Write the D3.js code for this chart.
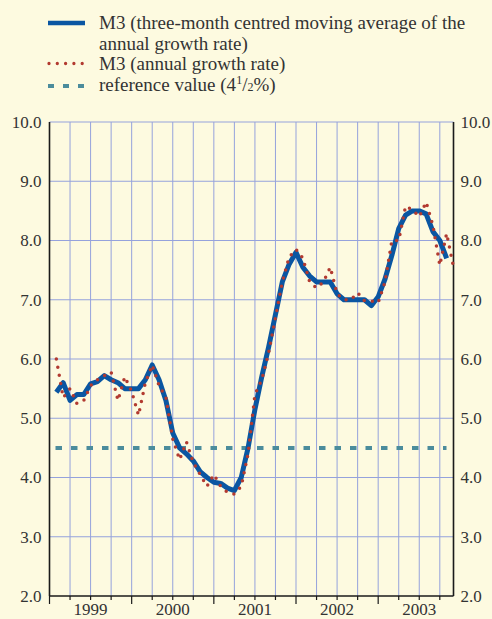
<!DOCTYPE html>
<html lang="en">
<head>
<meta charset="UTF-8">
<script src="https://cdn.jsdelivr.net/npm/d3@7"></script>
<style>
  body { margin: 0; background: #fdfae0; }
  svg { display: block; font-family: "Liberation Serif", "Times New Roman", serif; }
</style>
</head>
<body>
<div id="chart"></div>
<script>
// month index 0 = Jan 1999
var avgValues = [5.44, 5.6, 5.3, 5.4, 5.4, 5.58, 5.62, 5.72, 5.65, 5.6, 5.5, 5.5,
  5.5, 5.65, 5.9, 5.65, 5.3, 4.75, 4.5, 4.4, 4.28, 4.1, 4.0, 3.92,
  3.9, 3.82, 3.78, 4.0, 4.5, 5.15, 5.7, 6.2, 6.75, 7.3, 7.6, 7.8,
  7.55, 7.4, 7.3, 7.3, 7.3, 7.1, 7.0, 7.0, 7.0, 7.0, 6.9, 7.05,
  7.35, 7.75, 8.2, 8.43, 8.5, 8.5, 8.45, 8.15, 8.0, 7.7];

var annualValues = [6.0, 5.35, 5.5, 5.25, 5.3, 5.55, 5.65, 5.72, 5.78, 5.3, 5.7, 5.45,
  5.05, 5.6, 5.9, 5.55, 5.35, 4.65, 4.3, 4.6, 4.25, 4.05, 3.85, 4.05,
  3.85, 3.75, 3.72, 3.85, 4.4, 5.4, 5.65, 6.1, 6.7, 7.3, 7.72, 7.85,
  7.7, 7.3, 7.2, 7.3, 7.55, 7.1, 7.0, 7.0, 7.12, 6.98, 6.98, 6.95,
  7.3, 8.0, 8.0, 8.58, 8.52, 8.4, 8.65, 8.25, 7.58, 8.12, 7.55];

var referenceValue = 4.5;
var years = ["1999", "2000", "2001", "2002", "2003"];
var yTicks = [2, 3, 4, 5, 6, 7, 8, 9, 10];

var W = 492, H = 619;
var plotLeft = 49.5, plotRight = 453.5, plotTop = 122, plotBottom = 596;

var svg = d3.select("#chart").append("svg")
  .attr("width", W).attr("height", H);

svg.append("rect").attr("width", W).attr("height", H).attr("fill", "#fdfae0");

// months since start of Jan 1999; data plotted at month end
var x = d3.scaleLinear().domain([0, 59]).range([plotLeft, plotRight]);
var y = d3.scaleLinear().domain([2, 10]).range([plotBottom, plotTop]);

var gridColor = "#95a2dc";

// vertical grid (quarters)
var quarters = d3.range(3, 59, 3);
svg.append("g").selectAll("line").data(quarters).enter().append("line")
  .attr("x1", function(d) { return x(d); }).attr("x2", function(d) { return x(d); })
  .attr("y1", plotTop).attr("y2", plotBottom)
  .attr("stroke", gridColor).attr("stroke-width", 1);

// horizontal grid
svg.append("g").selectAll("line").data(yTicks.slice(1)).enter().append("line")
  .attr("x1", plotLeft).attr("x2", plotRight)
  .attr("y1", function(d) { return y(d); }).attr("y2", function(d) { return y(d); })
  .attr("stroke", gridColor).attr("stroke-width", 1);

// axes
svg.append("line").attr("x1", plotLeft).attr("x2", plotLeft).attr("y1", plotTop).attr("y2", plotBottom)
  .attr("stroke", "#1a1a1a").attr("stroke-width", 1.6);
svg.append("line").attr("x1", plotRight).attr("x2", plotRight).attr("y1", plotTop).attr("y2", plotBottom)
  .attr("stroke", "#1a1a1a").attr("stroke-width", 1.6);
svg.append("line").attr("x1", plotLeft).attr("x2", plotRight).attr("y1", plotBottom).attr("y2", plotBottom)
  .attr("stroke", "#1a1a1a").attr("stroke-width", 1.4);

// bottom ticks
svg.append("g").selectAll("line").data(d3.range(0, 60, 3)).enter().append("line")
  .attr("x1", function(d) { return x(d); }).attr("x2", function(d) { return x(d); })
  .attr("y1", plotBottom)
  .attr("y2", function(d) { return d % 12 === 0 ? plotBottom + 8 : plotBottom + 4; })
  .attr("stroke", "#1a1a1a").attr("stroke-width", 1.2);

// y labels
var labelColor = "#333";
svg.append("g").selectAll("text").data(yTicks).enter().append("text")
  .attr("x", plotLeft - 8).attr("y", function(d) { return y(d); })
  .attr("dy", "0.35em").attr("text-anchor", "end")
  .attr("font-size", 17).attr("fill", labelColor)
  .text(function(d) { return d.toFixed(1); });
svg.append("g").selectAll("text").data(yTicks).enter().append("text")
  .attr("x", plotRight + 7).attr("y", function(d) { return y(d); })
  .attr("dy", "0.35em").attr("text-anchor", "start")
  .attr("font-size", 17).attr("fill", labelColor)
  .text(function(d) { return d.toFixed(1); });

// year labels
svg.append("g").selectAll("text").data(years).enter().append("text")
  .attr("x", function(d, i) { return x(i * 12 + 6); }).attr("y", 615)
  .attr("text-anchor", "middle").attr("font-size", 17).attr("fill", labelColor)
  .text(function(d) { return d; });

// reference value
svg.append("line")
  .attr("x1", plotLeft + 6).attr("x2", plotRight - 7)
  .attr("y1", y(referenceValue)).attr("y2", y(referenceValue))
  .attr("stroke", "#4b8c9c").attr("stroke-width", 4)
  .attr("stroke-dasharray", "6.5,9");

var line = d3.line()
  .x(function(d, i) { return x(i + 1); })
  .y(function(d) { return y(d); });

svg.append("path").datum(avgValues)
  .attr("d", line).attr("fill", "none")
  .attr("stroke", "#0a56a2").attr("stroke-width", 5)
  .attr("stroke-linejoin", "round");

svg.append("path").datum(annualValues)
  .attr("d", line).attr("fill", "none")
  .attr("stroke", "#b23a30").attr("stroke-width", 3.5)
  .attr("stroke-linecap", "round")
  .attr("stroke-dasharray", "0,8.3");

// legend
var lg = svg.append("g");
lg.append("line").attr("x1", 48).attr("x2", 85).attr("y1", 23).attr("y2", 23)
  .attr("stroke", "#0a56a2").attr("stroke-width", 4.5);
lg.append("line").attr("x1", 49).attr("x2", 84).attr("y1", 63.5).attr("y2", 63.5)
  .attr("stroke", "#b23a30").attr("stroke-width", 3.3)
  .attr("stroke-linecap", "round").attr("stroke-dasharray", "0,8.3");
lg.append("line").attr("x1", 48).attr("x2", 85).attr("y1", 86).attr("y2", 86)
  .attr("stroke", "#4b8c9c").attr("stroke-width", 4)
  .attr("stroke-dasharray", "6,9");

function legendText(t, yy) {
  return lg.append("text").attr("x", 99).attr("y", yy)
    .attr("font-size", 19).attr("fill", labelColor).text(t);
}
legendText("M3 (three-month centred moving average of the", 29);
legendText("annual growth rate)", 49.5);
legendText("M3 (annual growth rate)", 70);
var ref = lg.append("text").attr("x", 99).attr("y", 90.5)
  .attr("font-size", 19).attr("fill", labelColor);
ref.append("tspan").text("reference value (4");
ref.append("tspan").attr("font-size", 12).attr("dy", -7).text("1");
ref.append("tspan").attr("dy", 7).text("/");
ref.append("tspan").attr("font-size", 12).text("2");
ref.append("tspan").text("%)");
</script>
</body>
</html>
